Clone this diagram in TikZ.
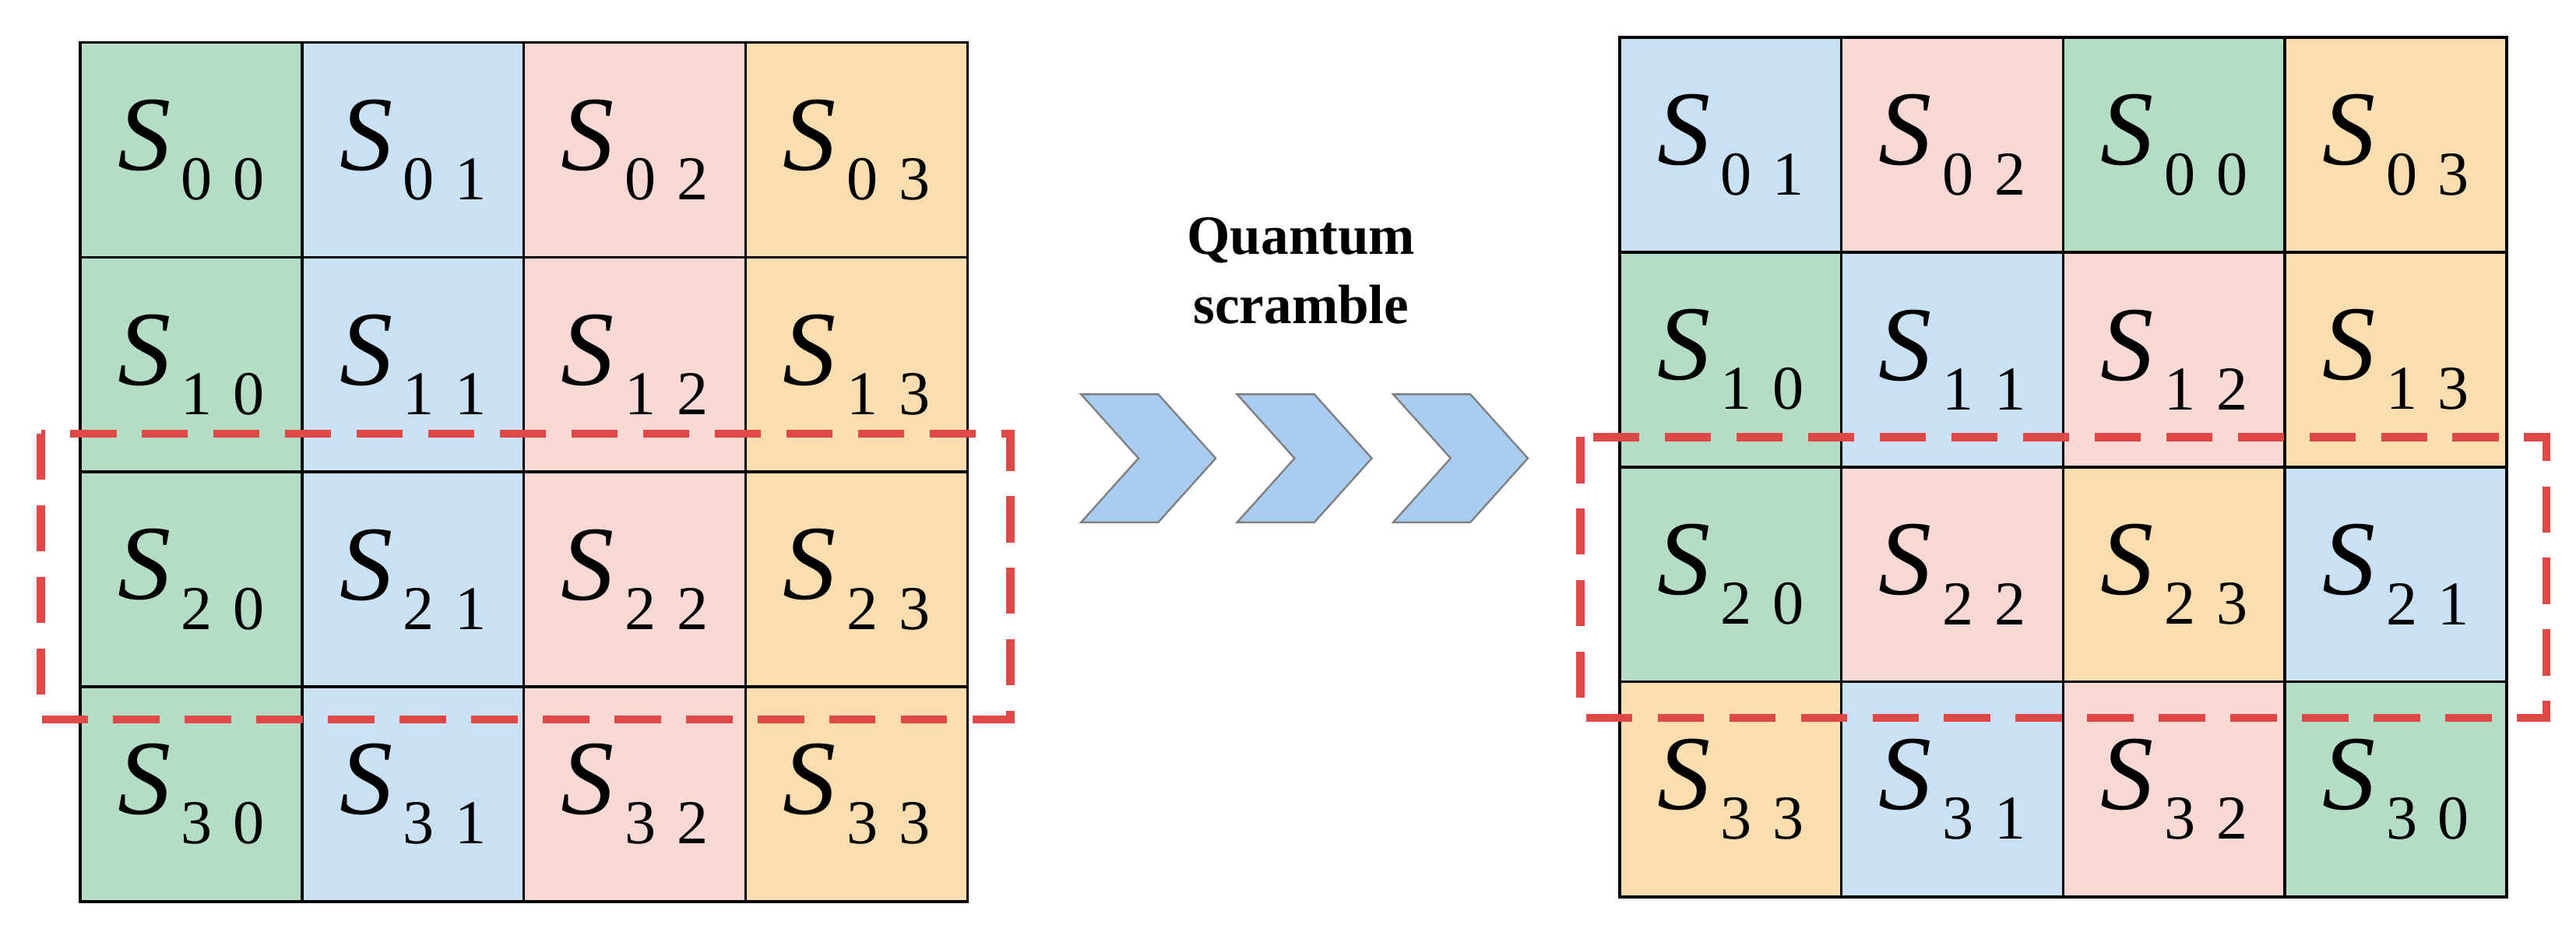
\documentclass[tikz,border=0pt]{standalone}
\usepackage{fontspec}
\setmainfont{Liberation Serif}
\begin{document}
\definecolor{cg}{HTML}{B3DEC5}
\definecolor{cb}{HTML}{C9E0F5}
\definecolor{cp}{HTML}{FAD9D5}
\definecolor{co}{HTML}{FCDDB0}
\definecolor{chev}{HTML}{A9CDF0}
\definecolor{dred}{HTML}{E04848}
\begin{tikzpicture}[x=0.025cm,y=-0.025cm,
  cell/.style={draw=black,line width=1.2pt,minimum width=3.375cm,minimum height=3.27cm,inner sep=0pt,anchor=north west,font=\fontsize{46}{52}\selectfont},
  redbox/.style={draw=dred,line width=3.6pt,dash pattern=on 20pt off 11pt},
  chv/.style={fill=chev,draw=gray,line width=0.8pt}]
\useasboundingbox (0,0) rectangle (1568,563);
\newcommand{\lab}[2]{{\itshape S}\raisebox{-0.28em}{\fontsize{27}{30}\selectfont\,#1\,\,#2}}
\foreach \r in {0,1,2,3}{
 \node[cell,fill=cg] (L\r0) at (48,{25+130.75*\r}) {\lab{\r}{0}};
 \node[cell,fill=cb] (L\r1) at (183,{25+130.75*\r}) {\lab{\r}{1}};
 \node[cell,fill=cp] (L\r2) at (318,{25+130.75*\r}) {\lab{\r}{2}};
 \node[cell,fill=co] (L\r3) at (453,{25+130.75*\r}) {\lab{\r}{3}};
}
\foreach \col/\fc/\a/\b in {0/cb/0/1,1/cp/0/2,2/cg/0/0,3/co/0/3}{
 \node[cell,fill=\fc] (R0\col) at ({985+135*\col},22) {\lab{\a}{\b}};
}
\foreach \col/\fc/\a/\b in {0/cg/1/0,1/cb/1/1,2/cp/1/2,3/co/1/3}{
 \node[cell,fill=\fc] (R1\col) at ({985+135*\col},152.75) {\lab{\a}{\b}};
}
\foreach \col/\fc/\a/\b in {0/cg/2/0,1/cp/2/2,2/co/2/3,3/cb/2/1}{
 \node[cell,fill=\fc] (R2\col) at ({985+135*\col},283.5) {\lab{\a}{\b}};
}
\foreach \col/\fc/\a/\b in {0/co/3/3,1/cb/3/1,2/cp/3/2,3/cg/3/0}{
 \node[cell,fill=\fc] (R3\col) at ({985+135*\col},414.25) {\lab{\a}{\b}};
}
\draw[redbox] (25,264) rectangle (615,438);
\draw[redbox] (962,266) rectangle (1550,437);
\foreach \dx in {0,95,190}{
 \draw[chv] ({658+\dx},240) -- ({705+\dx},240) -- ({740+\dx},279) -- ({705+\dx},318) -- ({658+\dx},318) -- ({693+\dx},279) -- cycle;
}
\node[font=\bfseries\fontsize{24}{30}\selectfont,align=center] (T) at (792,165) {Quantum\\scramble};
\end{tikzpicture}
\end{document}
